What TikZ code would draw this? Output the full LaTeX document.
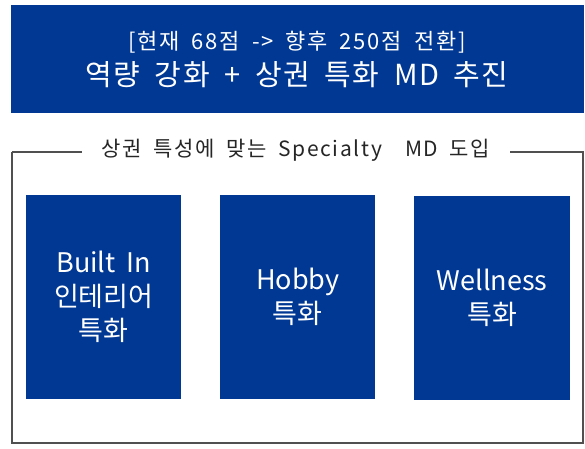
\documentclass[tikz,border=0pt]{standalone}
\usepackage{fontspec}
\setmainfont{Noto Sans CJK KR}[WordSpace=1.8]
\definecolor{navy}{RGB}{0,56,147}
\definecolor{frame}{RGB}{80,80,80}
\begin{document}
\begin{tikzpicture}[x=1pt,y=-1pt,
  card/.style={fill=navy,draw=none,anchor=north west,inner sep=0pt},
  cardtext/.style={text=white,align=center,font=\fontsize{27}{34}\selectfont}]
\useasboundingbox (0,0) rectangle (585,448);
\fill[white] (0,0) rectangle (585,448);
\node[card,minimum width=573pt,minimum height=108pt] (banner) at (11,5) {};
\node[text=white,align=center,font=\fontsize{22}{24}\selectfont\addfontfeatures{LetterSpace=8}] (t1) at (297,42) {[현재 68점 -> 향후 250점 전환]};
\node[text=white,align=center,font=\fontsize{29}{32}\selectfont\addfontfeatures{LetterSpace=5.5}] (t2) at (297,75) {역량 강화 + 상권 특화 MD 추진};
\draw[frame,line width=1.5pt] (12,152) -- (12,443) -- (583,443) -- (583,152) -- (510,152);
\draw[frame,line width=1.5pt] (12,152) -- (82,152);
\node[font=\fontsize{21}{24}\selectfont\addfontfeatures{LetterSpace=8},text=black!85] (sub) at (296,150) {상권 특성에 맞는 Specialty\ \ MD 도입};
\node[card,minimum width=155pt,minimum height=204pt] (b1) at (26,195) {};
\node[card,minimum width=155pt,minimum height=204pt] (b2) at (220,195) {};
\node[card,minimum width=156pt,minimum height=204pt] (b3) at (414,196) {};
\node[cardtext] (l1) at (b1.center) {Built In\\인테리어\\특화};
\node[cardtext] (l2) at (b2.center) {Hobby\\특화};
\node[cardtext] (l3) at (b3.center) {Wellness\\특화};
\end{tikzpicture}
\end{document}
